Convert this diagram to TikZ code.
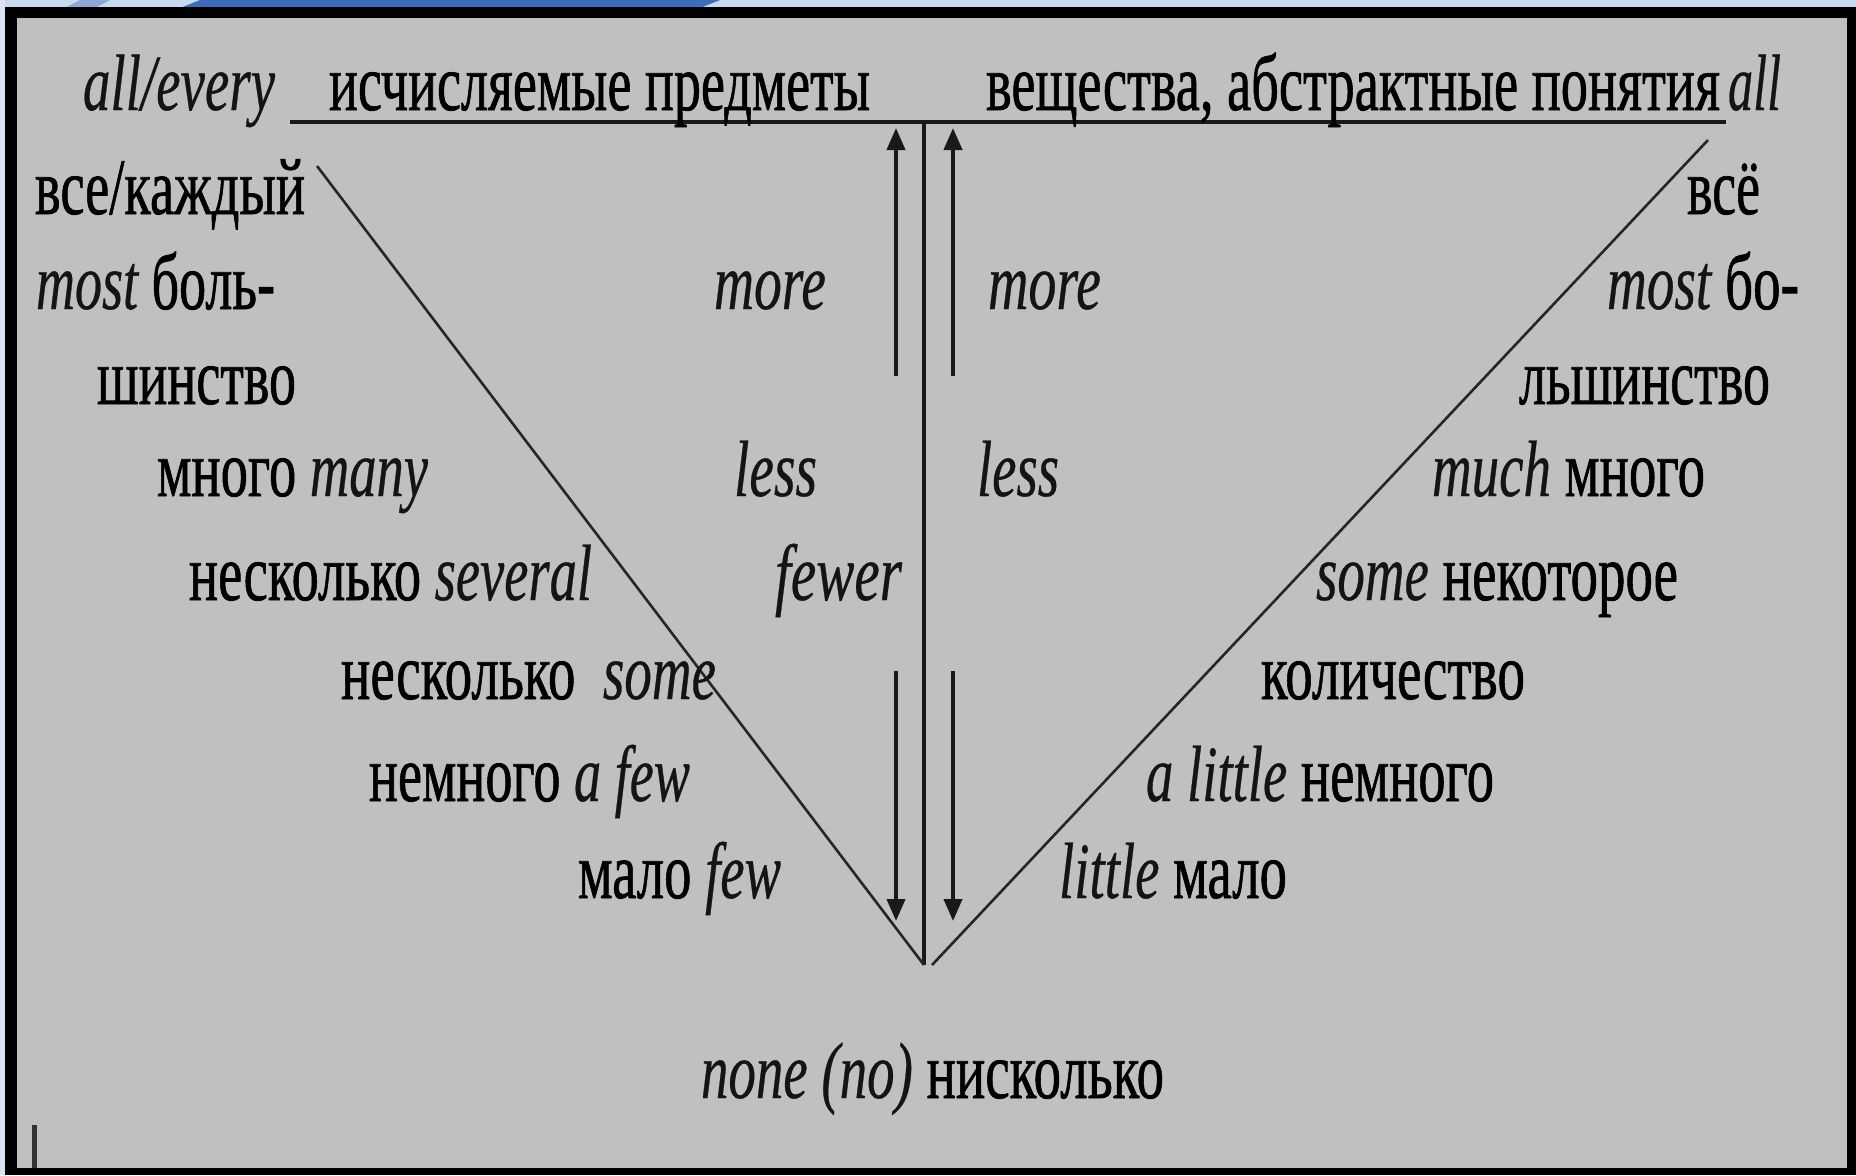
\documentclass[tikz,border=0pt]{standalone}
\usepackage{fontspec}
\setmainfont{LiberationSerif}[Extension=.ttf,UprightFont=*-Regular,ItalicFont=*-Italic,BoldFont=*-Bold,BoldItalicFont=*-BoldItalic,FakeBold=1]
\newfontfamily\enfont{LiberationSerif}[Extension=.ttf,UprightFont=*-Regular,ItalicFont=*-Italic,BoldFont=*-Bold,BoldItalicFont=*-BoldItalic,FakeBold=0.5]
\usetikzlibrary{arrows.meta}
\newlength\upx \setlength\upx{0.5pt}
\newcommand\fitw[2]{\resizebox{#1\upx}{\height}{#2}}
\newcommand\en[1]{{\enfont\itshape\color{black!92}\fontsize{40}{42}\selectfont #1}}
\definecolor{slidegray}{HTML}{C0C0C0}
\definecolor{decoblue}{HTML}{3D6DB8}
\definecolor{decolight}{HTML}{C9DAF0}
\begin{document}
\begin{tikzpicture}[x=0.5pt,y=-0.5pt,
  lbl/.style={anchor=base west,inner sep=0pt,outer sep=0pt,font=\fontsize{40}{42}\selectfont,text=black},
  ln/.style={line width=1.8pt,black!90},
  diag/.style={line width=1.3pt,black!85},
  arr/.style={line width=2pt,black!90,-{Triangle[width=9pt,length=11pt]}}]
\useasboundingbox (0,0) rectangle (1856,1175);
\fill[white] (0,0) rectangle (1856,1175);
% slide decoration
\fill[decolight] (0,0) rectangle (1856,8);
\fill[decoblue] (200,0) -- (720,0) -- (700,8) -- (180,8) -- cycle;
\fill[decoblue!60!white] (80,0) -- (110,0) -- (95,8) -- (65,8) -- cycle;
\fill[decolight!70!white] (0,0) rectangle (5,1175);
% frame
\fill[black] (5,7) rectangle (1856,1175);
\fill[slidegray] (17,18) rectangle (1847,1168);
\fill[black!80] (32,1125) rectangle (37,1168);

% coordinates
\coordinate (hl) at (290,122);
\coordinate (hr) at (1726,122);
\coordinate (vt) at (924,122);
\coordinate (vb) at (924,965);
\coordinate (ldt) at (317,166);
\coordinate (rdb) at (932,965);
\coordinate (rdt) at (1708,140);
\coordinate (lau1) at (896,376);
\coordinate (lau2) at (896,128);
\coordinate (lad1) at (896,671);
\coordinate (lad2) at (896,921);
\coordinate (rau1) at (953,376);
\coordinate (rau2) at (953,128);
\coordinate (rad1) at (953,671);
\coordinate (rad2) at (953,921);

\draw[ln] (hl) -- (hr);
\draw[ln] (vt) -- (vb);
\draw[diag] (ldt) -- (vb);
\draw[diag] (rdb) -- (rdt);
\draw[arr] (lau1) -- (lau2);
\draw[arr] (lad1) -- (lad2);
\draw[arr] (rau1) -- (rau2);
\draw[arr] (rad1) -- (rad2);

% top row
\node[lbl] (allevery) at (83,110) {\fitw{192}{\en{all/every}}};
\node[lbl] (countable) at (329,110) {\fitw{541}{исчисляемые предметы}};
\node[lbl] (subst) at (986,110) {\fitw{734}{вещества, абстрактные понятия}};
\node[lbl] (allr) at (1728,110) {\fitw{53}{\en{all}}};

% left column
\node[lbl] (l1) at (35,214) {\fitw{270}{все/каждый}};
\node[lbl] (l2) at (36,309) {\fitw{239}{\en{most} боль-}};
\node[lbl] (l3) at (97,404) {\fitw{199}{шинство}};
\node[lbl] (l4) at (157,496) {\fitw{271}{много \en{many}}};
\node[lbl] (l5) at (189,600) {\fitw{403}{несколько \en{several}}};
\node[lbl] (l6) at (341,699) {\fitw{375}{несколько\ \ \en{some}}};
\node[lbl] (l7) at (369,801) {\fitw{321}{немного \en{a few}}};
\node[lbl] (l8) at (578,898) {\fitw{203}{мало \en{few}}};

% middle
\node[lbl] (m1) at (714,309) {\fitw{112}{\en{more}}};
\node[lbl] (m2) at (988,309) {\fitw{113}{\en{more}}};
\node[lbl] (m3) at (734,496) {\fitw{83}{\en{less}}};
\node[lbl] (m4) at (977,496) {\fitw{82}{\en{less}}};
\node[lbl] (m5) at (775,600) {\fitw{127}{\en{fewer}}};

% right column
\node[lbl] (r1) at (1687,214) {\fitw{73}{всё}};
\node[lbl] (r2) at (1607,309) {\fitw{192}{\en{most} бо-}};
\node[lbl] (r3) at (1519,404) {\fitw{251}{льшинство}};
\node[lbl] (r4) at (1432,496) {\fitw{273}{\en{much} много}};
\node[lbl] (r5) at (1316,600) {\fitw{362}{\en{some} некоторое}};
\node[lbl] (r6) at (1261,699) {\fitw{264}{количество}};
\node[lbl] (r7) at (1146,801) {\fitw{348}{\en{a little} немного}};
\node[lbl] (r8) at (1059,898) {\fitw{228}{\en{little} мало}};

% bottom
\node[lbl] (none) at (701,1098) {\fitw{463}{\en{none (no)} нисколько}};
\end{tikzpicture}
\end{document}
